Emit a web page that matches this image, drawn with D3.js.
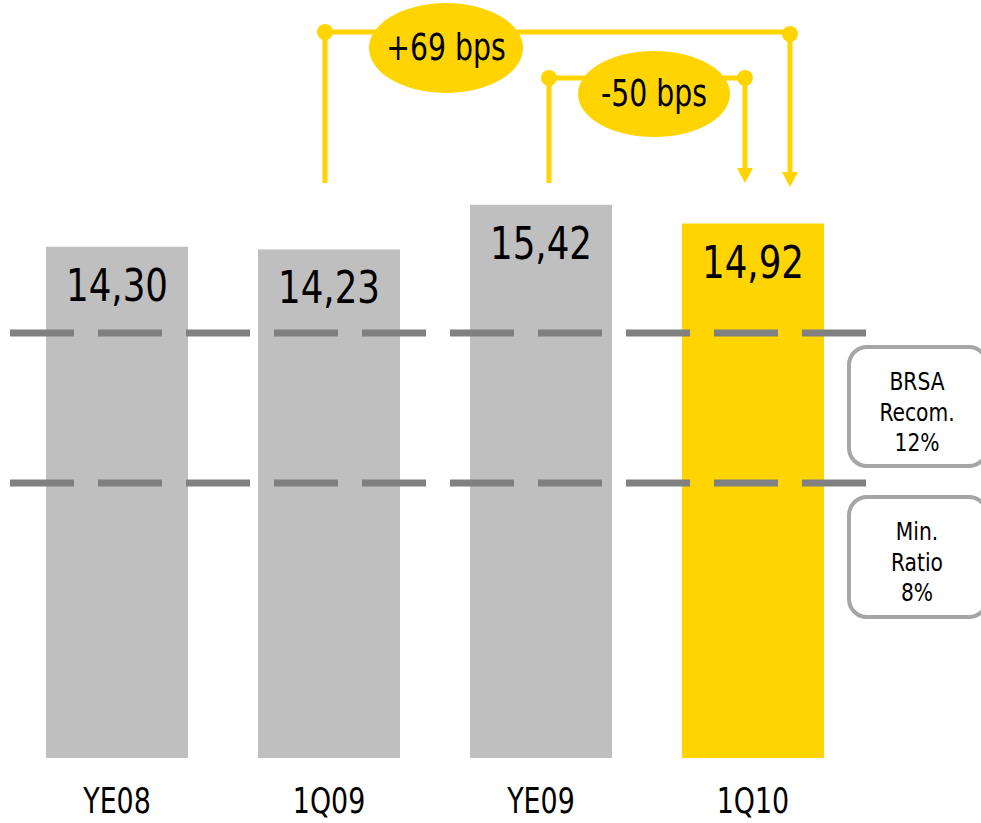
<!DOCTYPE html>
<html>
<head>
<meta charset="utf-8">
<script src="https://cdn.jsdelivr.net/npm/d3@7"></script>
<style>
  html, body { margin: 0; padding: 0; background: #fff; }
  svg { display: block; }
  text { font-family: "DejaVu Sans Condensed", "DejaVu Sans", sans-serif; fill: #000; }
</style>
</head>
<body>
<script>
// ---- data ----
const categories = ["YE08", "1Q09", "YE09", "1Q10"];
const values = [14.30, 14.23, 15.42, 14.92];
const highlight = "1Q10";
const thresholds = [12, 8];
const thresholdLabels = [["BRSA", "Recom.", "12%"], ["Min.", "Ratio", "8%"]];
const changes = [
  { from: "1Q09", to: "1Q10" },
  { from: "YE09", to: "1Q10" }
];

// ---- layout / style ----
const W = 981, H = 823;
const grey = "#BFBFBF", yellow = "#FFD400", dashGrey = "#808080", boxGrey = "#A6A6A6";
const barBottom = 758;

const svg = d3.select("body").append("svg").attr("width", W).attr("height", H);

const x = d3.scaleBand().domain(categories).range([46, 824]).paddingInner(0.33).paddingOuter(0);
const y = d3.scaleLinear().domain([0, 16]).range([783, 183]);
const fmt = v => d3.format(".2f")(v).replace(".", ",");
const data = categories.map((c, i) => ({ cat: c, value: values[i] }));

// narrow text helper: places text at (tx, ty) with horizontal compression
function ntext(parent, tx, ty, str, size, sx) {
  return parent.append("text")
    .attr("transform", `translate(${tx},${ty}) scale(${sx},1)`)
    .attr("text-anchor", "middle")
    .attr("font-size", size)
    .text(str);
}

// bars
svg.selectAll("rect.bar").data(data).join("rect")
  .attr("class", "bar")
  .attr("x", d => x(d.cat))
  .attr("width", x.bandwidth())
  .attr("y", d => y(d.value))
  .attr("height", d => barBottom - y(d.value))
  .attr("fill", d => d.cat === highlight ? yellow : grey);

// threshold dashed lines
svg.selectAll("line.thr").data(thresholds).join("line")
  .attr("class", "thr")
  .attr("x1", 10).attr("x2", 866)
  .attr("y1", d => y(d)).attr("y2", d => y(d))
  .attr("stroke", dashGrey).attr("stroke-width", 7)
  .attr("stroke-dasharray", "64 24");

// value labels
data.forEach(d => {
  ntext(svg, x(d.cat) + x.bandwidth() / 2, y(d.value) + 54, fmt(d.value), 45, 0.88);
});

// category labels
categories.forEach(c => {
  ntext(svg, x(c) + x.bandwidth() / 2, 813, c, 36, 0.83);
});

// threshold legend boxes
const boxes = [{ top: 347, h: 119 }, { top: 497, h: 120 }];
thresholdLabels.forEach((lines, i) => {
  const b = boxes[i];
  svg.append("rect")
    .attr("x", 849).attr("y", b.top).attr("width", 138).attr("height", b.h)
    .attr("rx", 18).attr("ry", 18)
    .attr("fill", "#fff").attr("stroke", boxGrey).attr("stroke-width", 4);
  lines.forEach((t, j) => {
    ntext(svg, 917, b.top + 43 + j * 30.5, t, 25, 0.9);
  });
});

// change brackets
const valOf = c => values[categories.indexOf(c)];
const cx = c => x(c) + x.bandwidth() / 2;
const bracketStyle = [
  { dl: -4, dr: 37, yTop: 32, yRightTop: 34, yLeftEnd: 183, yTip: 187, ex: 446, ey: 48, rx: 77, ry: 45 },
  { dl: 8, dr: -8, yTop: 78, yRightTop: 78, yLeftEnd: 183, yTip: 183, ex: 654, ey: 94, rx: 76, ry: 43 }
];
changes.forEach((ch, i) => {
  const s = bracketStyle[i];
  const xl = cx(ch.from) + s.dl, xr = cx(ch.to) + s.dr;
  const bps = Math.round((valOf(ch.to) - valOf(ch.from)) * 100);
  const label = (bps > 0 ? "+" : "") + bps + " bps";
  const g = svg.append("g");
  g.append("path")
    .attr("d", `M${xl},${s.yLeftEnd} L${xl},${s.yTop} L${xr},${s.yTop} L${xr},${s.yTip - 14}`)
    .attr("fill", "none").attr("stroke", yellow).attr("stroke-width", 5);
  g.append("circle").attr("cx", xl).attr("cy", s.yTop).attr("r", 8).attr("fill", yellow);
  g.append("circle").attr("cx", xr).attr("cy", s.yRightTop).attr("r", 8).attr("fill", yellow);
  g.append("path")
    .attr("d", `M${xr - 8},${s.yTip - 15} L${xr + 8},${s.yTip - 15} L${xr},${s.yTip} Z`)
    .attr("fill", yellow);
  g.append("ellipse").attr("cx", s.ex).attr("cy", s.ey).attr("rx", s.rx).attr("ry", s.ry).attr("fill", yellow);
  ntext(g, s.ex, s.ey + 12, label, 37, 0.85);
});
</script>
</body>
</html>
